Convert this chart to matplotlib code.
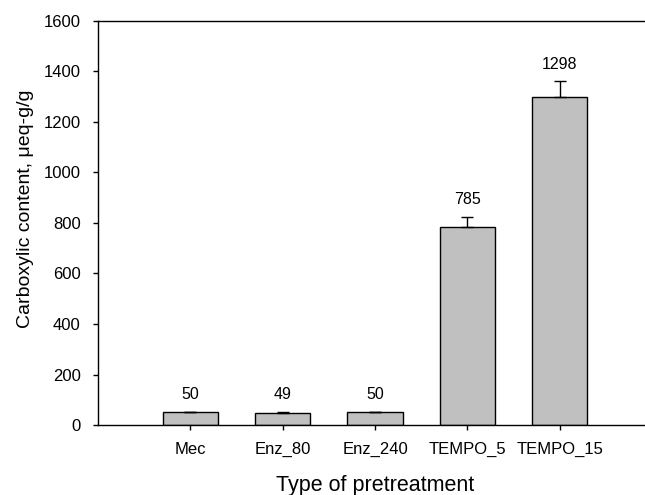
import matplotlib
matplotlib.use("Agg")
import matplotlib.pyplot as plt
import numpy as np

categories = ["Mec", "Enz_80", "Enz_240", "TEMPO_5", "TEMPO_15"]
values = [50, 49, 50, 785, 1298]
errors = [3, 3, 3, 40, 64]
labels = ["50", "49", "50", "785", "1298"]

plt.rcParams['font.family'] = ['Liberation Sans', 'DejaVu Sans']

fig = plt.figure(figsize=(6.45, 4.95), dpi=100)
ax = fig.add_axes([0.152, 0.1414, 0.859, 0.8162])

x = np.arange(1, len(categories) + 1)
ax.bar(x, values, width=0.6, color="#c0c0c0", edgecolor="black", linewidth=1.0, zorder=2)
ax.errorbar(x, values, yerr=[np.zeros(len(errors)), errors], fmt="none",
            ecolor="black", elinewidth=1.0, capsize=4.5, capthick=1.0, zorder=3)

for xi, v, e, lab in zip(x, values, errors, labels):
    ax.annotate(lab, (xi, v + e), xytext=(0, 9), textcoords="offset points",
                ha="center", va="baseline", fontsize=11.5)

ax.set_xlim(0, 6)
ax.set_ylim(0, 1600)
ax.set_yticks(np.arange(0, 1601, 200))
ax.set_xticks(x)
ax.set_xticklabels(categories)
ax.tick_params(axis="both", direction="out", length=3.5, width=1, labelsize=12)
ax.tick_params(axis="y", pad=9)
ax.tick_params(axis="x", pad=8.5)
ax.spines["right"].set_visible(False)
for s in ["left", "bottom", "top"]:
    ax.spines[s].set_linewidth(1.0)

ax.set_xlabel("Type of pretreatment", fontsize=15.5, labelpad=13)
ax.set_ylabel("Carboxylic content, \u03bceq-g/g", fontsize=14)
ax.yaxis.set_label_coords(-0.1155, 0.535)

fig.savefig("out.png", dpi=100)
